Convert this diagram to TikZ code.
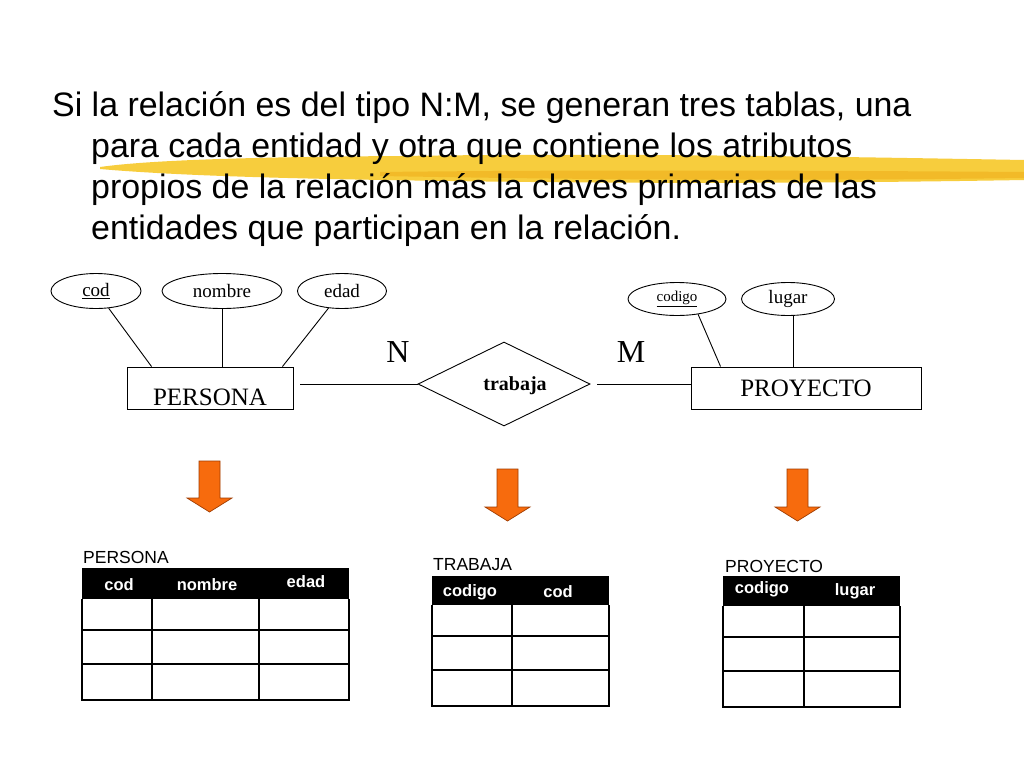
\documentclass[tikz,border=0pt]{standalone}
\usepackage{fontspec}
\setmainfont{Liberation Serif}
\newfontfamily\arialf{Liberation Sans}
\usetikzlibrary{shapes.geometric}
\definecolor{hlyellow}{RGB}{247,200,40}
\definecolor{hldark}{RGB}{236,165,15}
\definecolor{arrfill}{RGB}{247,107,13}
\definecolor{arrdraw}{RGB}{160,60,0}
\tikzset{
  titletext/.style={font=\arialf\fontsize{33.9}{41}\selectfont, inner sep=0pt, anchor=base west},
  attr/.style={ellipse, draw, line width=0.9pt, inner sep=0pt, minimum height=35pt, font=\fontsize{19}{19}\selectfont},
  entity/.style={rectangle, draw, line width=0.9pt, inner sep=0pt, minimum height=42pt},
  rel/.style={diamond, draw, line width=0.9pt, inner sep=0pt, minimum width=172pt, minimum height=84pt},
  card/.style={inner sep=0pt, font=\fontsize{32}{32}\selectfont},
  conn/.style={line width=0.9pt},
  bigarrow/.style={fill=arrfill, draw=arrdraw, line width=0.7pt, line join=miter},
  tabtitle/.style={inner sep=0pt, anchor=base west, font=\arialf\fontsize{17.5}{17.5}\selectfont},
  tabhead/.style={inner sep=0pt, text=white, font=\arialf\bfseries\fontsize{16.5}{16.5}\selectfont},
  grid/.style={line width=1.2pt}
}
\begin{document}
\begin{tikzpicture}[x=1pt,y=-1pt]
\useasboundingbox (0,0) rectangle (1024,768);
\fill[white] (0,0) rectangle (1024,768);

% highlighter stroke
\fill[hlyellow, opacity=0.9] (100,167) .. controls (150,160) and (250,157) .. (400,156)
  .. controls (600,153) and (800,156) .. (1024,160) -- (1024,180)
  .. controls (850,183) and (650,184) .. (450,181)
  .. controls (300,179) and (180,176) .. (100,169) -- cycle;
\fill[hldark, opacity=0.45] (380,172) .. controls (550,170) and (750,170) .. (1024,172) -- (1024,178)
  .. controls (800,181) and (600,180) .. (380,176) -- cycle;

% title text
\node[titletext] (t1) at (52,116) {Si la relación es del tipo N:M, se generan tres tablas, una};
\node[titletext] (t2) at (91,157) {para cada entidad y otra que contiene los atributos};
\node[titletext] (t3) at (91,198) {propios de la relación más la claves primarias de las};
\node[titletext] (t4) at (91,239) {entidades que participan en la relación.};

% ER diagram
\node[attr, minimum width=90pt] (cod) at (96,291) {\underline{cod}};
\node[attr, minimum width=120pt] (nombre) at (222,291) {nombre};
\node[attr, minimum width=89pt] (edad) at (342,291) {edad};
\node[attr, minimum width=98pt, minimum height=33pt, font=\fontsize{15}{15}\selectfont] (codigo) at (677,299) {\underline{codigo}};
\node[attr, minimum width=93pt, minimum height=33pt] (lugar) at (788,299) {lugar};

\node[entity, minimum width=166pt, label={[yshift=-9pt, font=\fontsize{25}{25}\selectfont]center:PERSONA}] (persona) at (210,388) {};
\node[entity, minimum width=230pt, font=\fontsize{25}{25}\selectfont] (proy) at (806,388) {PROYECTO};
\node[rel, label={[xshift=11pt, yshift=-2pt, font=\bfseries\fontsize{20}{20}\selectfont]center:trabaja}] (trab) at (504,384) {};

\node[card] (N) at (398,352) {N};
\node[card] (M) at (631,352) {M};

\draw[conn] (cod) -- ([xshift=25pt]persona.north west);
\draw[conn] (nombre) -- (nombre |- persona.north);
\draw[conn] (edad) -- ([xshift=-11pt]persona.north east);
\draw[conn] (codigo.-36) -- ([xshift=30pt]proy.north west);
\draw[conn] ([xshift=5pt]lugar.south) -- ([xshift=-13pt]proy.north);
\draw[conn] ([xshift=7pt]persona.east |- trab.west) -- (trab.west);
\draw[conn] ([xshift=7pt]trab.east) -- (proy.west |- trab.east);

% orange arrows
\draw[bigarrow] (199,461) -- (220,461) -- (220,498) -- (232,498) -- (209.5,512) -- (187,498) -- (199,498) -- cycle;
\draw[bigarrow] (497,469) -- (518,469) -- (518,507) -- (530,507) -- (507.5,521) -- (485,507) -- (497,507) -- cycle;
\draw[bigarrow] (787,469) -- (808,469) -- (808,507) -- (820,507) -- (797.5,521) -- (775,507) -- (787,507) -- cycle;

% PERSONA table
\node[tabtitle] (tp) at (83,563) {PERSONA};
\fill[black] (82,568) rectangle (349,599);
\node[tabhead] (hp1) at (119,585) {cod};
\node[tabhead] (hp2) at (207,585) {nombre};
\node[tabhead] (hp3) at (306,582) {edad};
\draw[grid] (82,599) -- (82,700) -- (349,700) -- (349,599);
\draw[grid] (81,630) -- (350,630) (81,664) -- (350,664);
\draw[grid] (152,599) -- (152,700) (259,599) -- (259,700);

% TRABAJA table
\node[tabtitle] (tt) at (433,570) {TRABAJA};
\fill[black] (432,576) rectangle (609,605);
\node[tabhead] (ht1) at (470,592) {codigo};
\node[tabhead] (ht2) at (558,592) {cod};
\draw[grid] (432,605) -- (432,706) -- (609,706) -- (609,605);
\draw[grid] (431,636) -- (610,636) (431,670) -- (610,670);
\draw[grid] (512,605) -- (512,706);

% PROYECTO table
\node[tabtitle] (tq) at (725,572) {PROYECTO};
\fill[black] (723,576) rectangle (900,606);
\node[tabhead] (hq1) at (762,589) {codigo};
\node[tabhead] (hq2) at (855,591) {lugar};
\draw[grid] (723,606) -- (723,707) -- (900,707) -- (900,606);
\draw[grid] (722,637) -- (901,637) (722,671) -- (901,671);
\draw[grid] (804,606) -- (804,707);
\end{tikzpicture}
\end{document}
